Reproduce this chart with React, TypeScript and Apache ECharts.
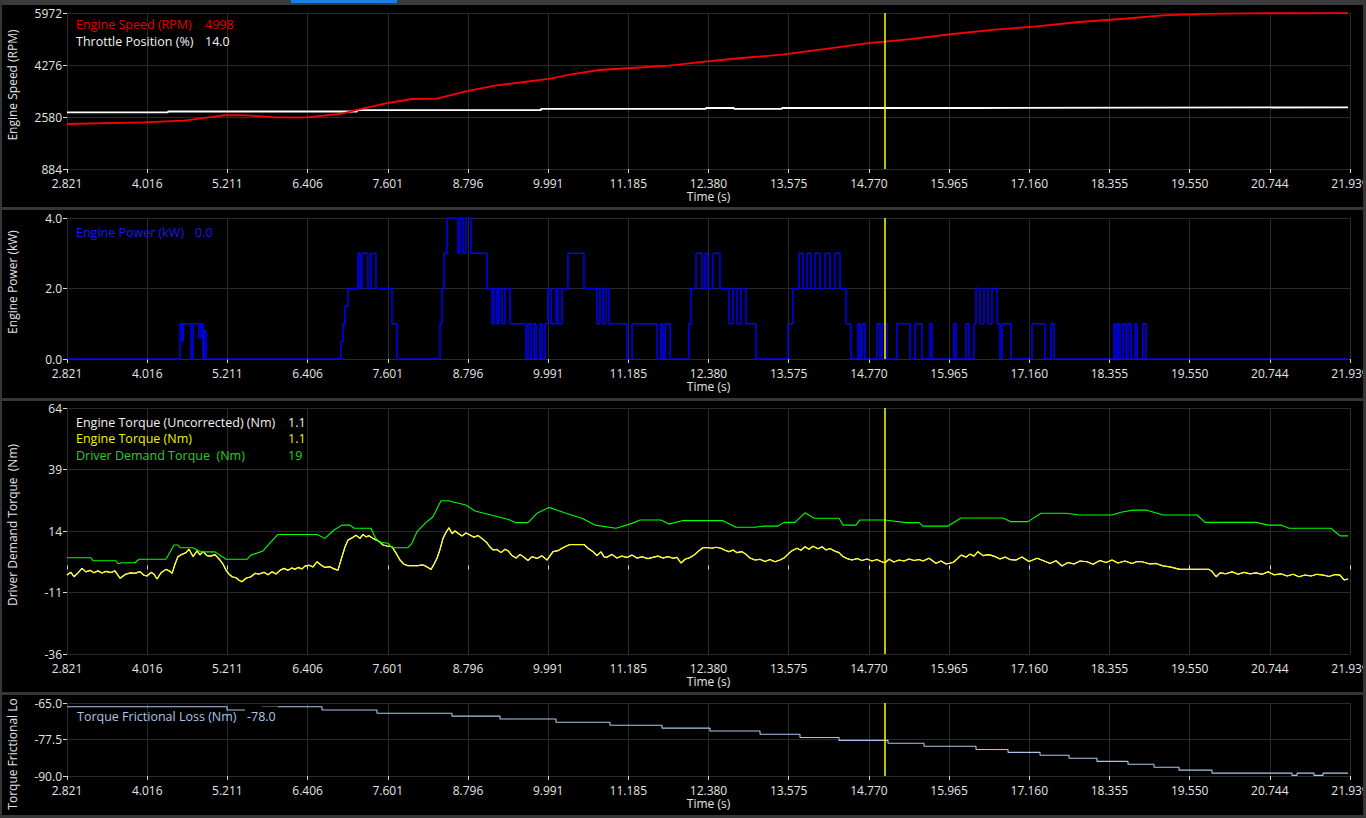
import React, { useEffect, useRef } from "react";
import * as echarts from "echarts";

// ---------- tick labels ----------
const TIME_TICKS = [2.821, 4.016, 5.211, 6.406, 7.601, 8.796, 9.991, 11.185, 12.38, 13.575, 14.77, 15.965, 17.16, 18.355, 19.55, 20.744, 21.939];
const RPM_TICKS = [884, 2580, 4276, 5972];
const POWER_TICKS = [0, 2, 4];
const TORQUE_TICKS = [-36, -11, 14, 39, 64];
const FRICTION_TICKS = [-90, -77.5, -65];
const CURSOR_TIME = 15.01;

// ---------- series values [time (s), value] ----------
const ENGINE_SPEED = [
  [2.821, 2352], [3.954, 2407], [4.564, 2460], [5.19, 2640], [5.503, 2630], [5.935, 2570], [6.397, 2570],
  [6.919, 2690], [7.157, 2818], [7.604, 3037], [7.962, 3167], [8.334, 3177], [8.767, 3418], [9.199, 3601],
  [9.631, 3722], [10.003, 3820], [10.316, 3960], [10.748, 4113], [11.24, 4178], [11.791, 4253], [12.357, 4397],
  [12.879, 4504], [13.505, 4620], [14.131, 4800], [14.757, 4990], [15.01, 5040], [15.382, 5120], [16.023, 5287],
  [16.649, 5428], [17.275, 5538], [17.901, 5678], [18.527, 5776], [19.153, 5897], [19.779, 5945], [20.404, 5962],
  [21.91, 5968],
];

const THROTTLE = [
  [2.821, 13.0], [4.326, 13.2], [7.142, 13.5], [9.884, 13.8], [12.343, 14.0], [12.76, 13.8], [13.475, 14.0],
  [16.336, 14.15], [21.91, 14.15],
];

const ENGINE_POWER = [
  [2.821, 0], [4.505, 1], [4.535, 0.5], [4.55, 1], [4.639, 1], [4.669, 0], [4.699, 1], [4.788, 0.6], [4.818, 1],
  [4.848, 0], [4.862, 0.8], [4.892, 0],
  [6.904, 0.5], [6.934, 1], [6.963, 1.5], [7.008, 2], [7.157, 3], [7.187, 2], [7.217, 3], [7.306, 2], [7.351, 3],
  [7.425, 2], [7.664, 1], [7.738, 0],
  [8.379, 1], [8.409, 2], [8.439, 3], [8.483, 4], [8.647, 3], [8.677, 4], [8.722, 3], [8.766, 4], [8.841, 3],
  [9.079, 2], [9.154, 1], [9.184, 2], [9.228, 1], [9.258, 2], [9.303, 1], [9.348, 2], [9.422, 1], [9.66, 0],
  [9.691, 1], [9.735, 0], [9.78, 1], [9.809, 0], [9.869, 1], [9.899, 0], [9.944, 1], [9.988, 2], [10.033, 1],
  [10.108, 2], [10.137, 1], [10.197, 2], [10.286, 3], [10.525, 2], [10.718, 1], [10.763, 2], [10.808, 1],
  [10.852, 2], [10.897, 1], [11.165, 0], [11.24, 1], [11.613, 0], [11.672, 1], [11.702, 0], [11.737, 1],
  [11.807, 0], [12.089, 1], [12.119, 2], [12.194, 3], [12.283, 2], [12.328, 3], [12.372, 2], [12.447, 3],
  [12.551, 2], [12.685, 1], [12.745, 2], [12.805, 1], [12.864, 2], [12.939, 1], [13.088, 0],
  [13.565, 1], [13.639, 2], [13.728, 3], [13.788, 2], [13.848, 3], [13.907, 2], [13.967, 3], [14.042, 2],
  [14.116, 3], [14.191, 2], [14.265, 3], [14.339, 2], [14.429, 1], [14.503, 0], [14.608, 1], [14.637, 0],
  [14.667, 1], [14.712, 0], [14.891, 1], [14.936, 0], [14.965, 1], [15.04, 0], [15.189, 1], [15.383, 0],
  [15.457, 1], [15.561, 0], [15.68, 1], [15.71, 0], [16.038, 1], [16.068, 0], [16.217, 1], [16.261, 0],
  [16.336, 1], [16.366, 2], [16.426, 1], [16.485, 2], [16.545, 1], [16.604, 2], [16.679, 1], [16.724, 0],
  [16.753, 1], [16.887, 0], [17.2, 1], [17.394, 0], [17.484, 1], [17.528, 0], [18.422, 1], [18.452, 0],
  [18.482, 1], [18.512, 0], [18.557, 1], [18.601, 0], [18.631, 1], [18.676, 0], [18.736, 1], [18.765, 0],
  [18.85, 1], [18.899, 0], [21.91, 0],
];

const ENGINE_TORQUE = [
  [2.821, -3.9], [2.88, -2.8], [2.925, -4.6], [2.985, -3.0], [3.044, -1.2], [3.104, -2.6], [3.164, -2.0],
  [3.223, -3.0], [3.283, -2.2], [3.342, -3.1], [3.402, -2.4], [3.477, -2.9], [3.536, -2.2], [3.611, -5.2],
  [3.7, -3.5], [3.775, -3.0], [3.834, -3.2], [3.909, -2.5], [3.968, -4.0], [4.013, -4.3], [4.073, -2.8],
  [4.117, -3.6], [4.162, -5.5], [4.222, -3.0], [4.296, -1.6], [4.356, -2.4], [4.386, -3.2], [4.43, 0.5],
  [4.475, 3.6], [4.535, 4.5], [4.594, 5.2], [4.639, 6.6], [4.699, 3.6], [4.758, 5.9], [4.803, 4.3],
  [4.848, 5.6], [4.907, 4.0], [4.967, 3.8], [5.026, 4.4], [5.101, 2.2], [5.146, 0.5], [5.19, -1.9],
  [5.235, -3.5], [5.28, -4.6], [5.339, -5.0], [5.384, -6.0], [5.429, -6.6], [5.488, -5.2], [5.563, -4.6],
  [5.622, -3.2], [5.682, -3.5], [5.756, -2.8], [5.816, -3.8], [5.876, -2.6], [5.935, -3.5], [5.995, -2.0],
  [6.054, -1.2], [6.114, -2.0], [6.174, -1.0], [6.218, -1.6], [6.263, -0.8], [6.323, -1.4], [6.367, -0.3],
  [6.427, 0.1], [6.487, -0.6], [6.546, 1.5], [6.606, 0.2], [6.665, -0.8], [6.74, -0.5], [6.799, -1.4],
  [6.859, -1.9], [6.919, 3.6], [6.963, 7.5], [7.008, 10.3], [7.068, 11.2], [7.127, 12.3], [7.187, 11.0],
  [7.232, 12.6], [7.277, 11.6], [7.321, 12.1], [7.381, 11.0], [7.44, 10.2], [7.485, 9.5], [7.53, 8.3],
  [7.589, 7.9], [7.664, 7.6], [7.724, 5.0], [7.783, 2.2], [7.843, 0.5], [7.902, -0.1], [7.977, -0.1],
  [8.051, -0.1], [8.111, 0.2], [8.156, -0.1], [8.245, -1.6], [8.29, 0.5], [8.334, 2.9], [8.379, 6.5],
  [8.424, 11.0], [8.469, 13.5], [8.513, 15.3], [8.558, 13.0], [8.603, 14.0], [8.647, 13.1], [8.707, 12.0],
  [8.766, 13.2], [8.826, 12.4], [8.885, 11.5], [8.945, 12.2], [9.02, 10.6], [9.079, 9.2], [9.124, 7.5],
  [9.169, 6.3], [9.228, 6.5], [9.288, 5.2], [9.348, 6.6], [9.392, 6.0], [9.452, 4.0], [9.512, 3.0],
  [9.571, 4.5], [9.631, 3.3], [9.69, 2.0], [9.75, 3.6], [9.825, 2.8], [9.899, 3.9], [9.974, 2.2],
  [10.063, 5.6], [10.137, 6.0], [10.197, 7.0], [10.256, 7.8], [10.316, 8.5], [10.525, 8.5], [10.584, 7.0],
  [10.659, 5.6], [10.718, 4.0], [10.778, 5.5], [10.823, 3.5], [10.867, 3.3], [10.942, 4.5], [11.016, 3.0],
  [11.091, 3.8], [11.165, 3.2], [11.24, 4.2], [11.314, 3.0], [11.389, 3.5], [11.478, 2.8], [11.553, 3.3],
  [11.627, 3.8], [11.702, 3.0], [11.776, 3.6], [11.851, 2.9], [11.911, 3.3], [11.97, 1.0], [12.03, 2.5],
  [12.104, 3.2], [12.164, 4.2], [12.238, 6.0], [12.298, 7.2], [12.372, 7.3], [12.432, 7.0], [12.492, 7.4],
  [12.566, 7.0], [12.626, 6.2], [12.685, 5.6], [12.745, 6.3], [12.805, 5.2], [12.879, 5.6], [12.939, 4.5],
  [12.998, 3.0], [13.073, 2.2], [13.147, 2.5], [13.222, 1.6], [13.296, 2.4], [13.371, 1.5], [13.445, 2.2],
  [13.505, 3.0], [13.565, 4.6], [13.624, 6.0], [13.699, 7.0], [13.758, 6.2], [13.818, 7.6], [13.878, 6.6],
  [13.937, 7.8], [14.012, 6.8], [14.072, 7.6], [14.131, 6.3], [14.191, 6.9], [14.265, 5.8], [14.325, 5.2],
  [14.384, 3.6], [14.444, 2.8], [14.518, 2.2], [14.593, 2.8], [14.667, 2.0], [14.742, 2.6], [14.816, 1.8],
  [14.891, 2.4], [14.95, 1.6], [15.01, 1.1], [15.07, 2.5], [15.144, 1.4], [15.219, 2.2], [15.293, 1.8],
  [15.368, 2.6], [15.442, 2.0], [15.517, 2.4], [15.576, 1.8], [15.666, 2.9], [15.77, 0.9], [15.845, 1.8],
  [15.919, 0.6], [16.023, 1.2], [16.083, 2.6], [16.143, 4.2], [16.217, 3.4], [16.277, 4.6], [16.336, 3.8],
  [16.396, 5.6], [16.47, 4.0], [16.56, 4.4], [16.649, 3.6], [16.724, 2.6], [16.798, 3.4], [16.873, 2.4],
  [16.962, 2.2], [17.051, 3.4], [17.156, 1.6], [17.275, 2.9], [17.364, 2.0], [17.469, 0.8], [17.558, 1.9],
  [17.647, -0.2], [17.737, 1.2], [17.826, 0.6], [17.916, 1.8], [18.021, 1.5], [18.11, 0.5], [18.214, 2.0],
  [18.303, 1.2], [18.393, 2.2], [18.482, 1.0], [18.586, 1.8], [18.691, 0.8], [18.765, 1.6], [18.84, 1.5],
  [18.959, 0.6], [19.049, 0.8], [19.153, -0.2], [19.257, -0.6], [19.406, -1.6], [19.63, -1.6], [19.839, -1.6],
  [19.884, -2.5], [19.944, -4.6], [20.003, -3.0], [20.092, -3.4], [20.182, -2.6], [20.271, -3.6],
  [20.361, -2.8], [20.45, -3.4], [20.539, -3.0], [20.629, -3.6], [20.718, -2.6], [20.807, -3.8],
  [20.911, -3.4], [21.001, -4.3], [21.09, -3.6], [21.18, -4.6], [21.269, -3.9], [21.358, -4.3],
  [21.448, -3.6], [21.537, -3.9], [21.627, -4.5], [21.716, -3.7], [21.79, -3.9], [21.85, -5.9], [21.91, -5.5],
];

const DRIVER_DEMAND = [
  [2.821, 3.15], [3.179, 3.15], [3.208, 1.9], [3.551, 1.9], [3.581, 0.7], [3.64, 1.1], [3.834, 1.1],
  [3.894, 2.5], [4.296, 2.5], [4.415, 8.3], [4.475, 8.3], [4.505, 7.2], [4.699, 7.2], [4.818, 5.5],
  [5.026, 5.5], [5.19, 2.5], [5.503, 2.5], [5.563, 4.2], [5.742, 5.9], [5.861, 9.6], [5.965, 12.6],
  [6.546, 12.6], [6.665, 11.0], [6.799, 14.4], [6.919, 16.4], [7.038, 16.4], [7.098, 15.1], [7.351, 15.1],
  [7.411, 11.5], [7.47, 9.5], [7.604, 9.0], [7.664, 7.2], [7.902, 7.2], [7.96, 9.0], [8.036, 13.7],
  [8.156, 17.1], [8.275, 19.8], [8.394, 26.3], [8.498, 26.3], [8.766, 24.6], [8.901, 22.1], [9.139, 20.5],
  [9.392, 18.8], [9.512, 17.4], [9.69, 17.4], [9.825, 21.2], [10.003, 23.6], [10.256, 21.2], [10.495, 19.2],
  [10.689, 16.4], [11.002, 15.1], [11.24, 17.1], [11.359, 18.5], [11.672, 18.5], [11.791, 16.8],
  [11.985, 18.2], [12.596, 18.2], [12.79, 15.5], [13.073, 15.5], [13.192, 16.0], [13.416, 16.0],
  [13.505, 17.5], [13.669, 17.5], [13.818, 21.4], [13.952, 19.2], [14.325, 19.2], [14.384, 16.4],
  [14.578, 16.4], [14.637, 18.5], [15.01, 18.5], [15.323, 17.4], [15.517, 17.4], [15.576, 16.0],
  [15.949, 16.0], [16.143, 19.3], [16.768, 19.3], [16.887, 17.8], [17.141, 17.8], [17.334, 21.2],
  [17.707, 21.2], [17.901, 20.5], [18.393, 20.5], [18.527, 21.6], [18.706, 22.5], [18.899, 22.5],
  [19.153, 20.5], [19.659, 20.5], [19.779, 17.5], [20.539, 17.5], [20.717, 16.4], [20.911, 16.4],
  [21.03, 15.1], [21.656, 15.1], [21.79, 12.0], [21.91, 12.0],
];

const FRICTION_LOSS = [
  [2.821, -66.3], [5.205, -67.4], [5.727, -66.3], [6.621, -67.4], [7.44, -68.5], [8.558, -69.5],
  [9.273, -70.5], [10.108, -71.6], [10.912, -72.6], [11.687, -73.6], [12.402, -74.6], [13.148, -75.7],
  [13.743, -76.8], [14.325, -77.8], [15.055, -78.8], [15.591, -79.8], [16.366, -80.9], [16.843, -81.9],
  [17.32, -82.9], [17.752, -83.9], [18.169, -85.0], [18.631, -86.0], [19.018, -87.0], [19.391, -88.0],
  [19.883, -89.0], [21.075, -89.8], [21.15, -89.0], [21.403, -89.8], [21.537, -89.0], [21.91, -89.0],
];

// ---------- legend readouts ----------
const LEGEND_P1 = [["Engine Speed (RPM)", "4998", "#e00000"], ["Throttle Position (%)", "14.0", "#f2f2f2"]];
const LEGEND_P2 = [["Engine Power (kW)", "0.0", "#1818f0"]];
const LEGEND_P3 = [
  ["Engine Torque (Uncorrected) (Nm)", "1.1", "#f2f2f2"],
  ["Engine Torque (Nm)", "1.1", "#f0f000"],
  ["Driver Demand Torque  (Nm)", "19", "#22d022"],
];
const LEGEND_P4 = [["Torque Frictional Loss (Nm)", "-78.0", "#a9c6ea"]];

// ---------- layout / style ----------
const FONT = "Open Sans";
const TEXT = "#e4e4e4";
const GRID_LINE = "#2a2a2a";
const TICK = "#d8d8d8";
const SEP = "#363636";
const LEGEND_SIZE = 12.5;
const PANELS = [
  { top: 13, height: 156 },
  { top: 218, height: 141 },
  { top: 408, height: 246 },
  { top: 703, height: 73 },
];

function makeX(gridIndex: number) {
  return {
    type: "value",
    gridIndex,
    min: TIME_TICKS[0],
    max: TIME_TICKS[TIME_TICKS.length - 1],
    name: "Time (s)",
    nameLocation: "middle",
    nameGap: 21,
    nameTextStyle: { color: TEXT, fontFamily: FONT, fontSize: 12, lineHeight: 12 },
    axisLine: { show: false },
    axisTick: { show: true, customValues: TIME_TICKS, length: 4, lineStyle: { color: TICK } },
    axisLabel: {
      customValues: TIME_TICKS,
      formatter: (v: number) => v.toFixed(3),
      color: TEXT,
      fontFamily: FONT,
      fontSize: 12,
      lineHeight: 12,
      margin: 8,
      showMinLabel: true,
      showMaxLabel: true,
    },
    splitLine: { show: true, lineStyle: { color: GRID_LINE, width: 1 } },
  };
}

function makeY(gridIndex: number, ticks: number[], digits: number) {
  return {
    type: "value",
    gridIndex,
    min: ticks[0],
    max: ticks[ticks.length - 1],
    axisLine: { show: false },
    axisTick: { show: true, customValues: ticks, length: 4, lineStyle: { color: TICK } },
    axisLabel: {
      customValues: ticks,
      formatter: (v: number) => v.toFixed(digits),
      color: TEXT,
      fontFamily: FONT,
      fontSize: 12,
      lineHeight: 12,
      margin: 5,
      showMinLabel: true,
      showMaxLabel: true,
    },
    splitLine: { show: true, lineStyle: { color: GRID_LINE, width: 1 } },
  };
}

const cursor = {
  silent: true,
  symbol: ["none", "none"],
  label: { show: false },
  lineStyle: { color: "#ffff00", width: 1.5, type: "solid" },
  data: [{ xAxis: CURSOR_TIME }],
};

function legendTexts(rows: string[][], x: number, valueX: number, y0: number, dy: number, bg?: string) {
  const out: any[] = [];
  rows.forEach((r, i) => {
    out.push({
      type: "text",
      x,
      y: y0 + i * dy,
      z: 100,
      style: { text: r[0], fill: r[2], fontSize: LEGEND_SIZE, fontFamily: FONT, verticalAlign: "middle", align: "left" },
    });
    out.push({
      type: "text",
      x: valueX,
      y: y0 + i * dy,
      z: 100,
      style: {
        text: r[1],
        fill: r[2],
        fontSize: LEGEND_SIZE,
        fontFamily: FONT,
        verticalAlign: "middle",
        align: "left",
        backgroundColor: bg,
        padding: bg ? [3, 2, 3, 2] : 0,
      },
    });
  });
  return out;
}

function yName(text: string, x: number, y: number, width?: number) {
  const style: any = { text, fill: TEXT, fontSize: 12, fontFamily: FONT, align: "center", verticalAlign: "middle" };
  if (width) {
    style.width = width;
    style.overflow = "truncate";
    style.ellipsis = "";
  }
  return { type: "text", x, y, rotation: Math.PI / 2, z: 100, style };
}

export default function App() {
  const ref = useRef<HTMLDivElement>(null);

  useEffect(() => {
    if (!ref.current) return;
    const chart = echarts.init(ref.current, null, { renderer: "svg" });

    const sepRect = (x: number, y: number, w: number, h: number, fill = SEP) => ({
      type: "rect",
      z: 200,
      shape: { x, y, width: w, height: h },
      style: { fill },
      silent: true,
    });

    const option: any = {
      animation: false,
      backgroundColor: "#000000",
      grid: PANELS.map((p) => ({
        left: 67,
        right: 16,
        top: p.top,
        height: p.height,
        containLabel: false,
        outerBoundsMode: "none",
      })),
      xAxis: [makeX(0), makeX(1), makeX(2), makeX(3)],
      yAxis: [
        makeY(0, RPM_TICKS, 0),
        makeY(1, POWER_TICKS, 1),
        makeY(2, TORQUE_TICKS, 0),
        makeY(3, FRICTION_TICKS, 1),
        { type: "value", gridIndex: 0, min: 0, max: 35.8, show: false },
      ],
      series: [
        {
          name: "Throttle Position (%)",
          type: "line",
          xAxisIndex: 0,
          yAxisIndex: 4,
          step: "end",
          showSymbol: false,
          data: THROTTLE,
          lineStyle: { color: "#ffffff", width: 1.8 },
          itemStyle: { color: "#ffffff" },
          z: 3,
        },
        {
          name: "Engine Speed (RPM)",
          type: "line",
          xAxisIndex: 0,
          yAxisIndex: 0,
          showSymbol: false,
          data: ENGINE_SPEED,
          lineStyle: { color: "#ff0000", width: 1.8 },
          itemStyle: { color: "#ff0000" },
          markLine: cursor,
          z: 4,
        },
        {
          name: "Engine Power (kW)",
          type: "line",
          xAxisIndex: 1,
          yAxisIndex: 1,
          step: "end",
          showSymbol: false,
          data: ENGINE_POWER,
          lineStyle: { color: "#0000ff", width: 1.5 },
          itemStyle: { color: "#0000ff" },
          markLine: cursor,
        },
        {
          name: "Engine Torque (Uncorrected) (Nm)",
          type: "line",
          xAxisIndex: 2,
          yAxisIndex: 2,
          showSymbol: false,
          data: ENGINE_TORQUE,
          lineStyle: { color: "#ffffff", width: 1.2 },
          itemStyle: { color: "#ffffff" },
          z: 2,
        },
        {
          name: "Engine Torque (Nm)",
          type: "line",
          xAxisIndex: 2,
          yAxisIndex: 2,
          showSymbol: false,
          data: ENGINE_TORQUE,
          lineStyle: { color: "#ffff00", width: 1.1 },
          itemStyle: { color: "#ffff00" },
          z: 3,
        },
        {
          name: "Driver Demand Torque  (Nm)",
          type: "line",
          xAxisIndex: 2,
          yAxisIndex: 2,
          showSymbol: false,
          data: DRIVER_DEMAND,
          lineStyle: { color: "#00ff00", width: 1.1 },
          itemStyle: { color: "#00ff00" },
          markLine: cursor,
          z: 4,
        },
        {
          name: "Torque Frictional Loss (Nm)",
          type: "line",
          xAxisIndex: 3,
          yAxisIndex: 3,
          step: "end",
          showSymbol: false,
          data: FRICTION_LOSS,
          lineStyle: { color: "#a9c6ea", width: 1.1 },
          itemStyle: { color: "#a9c6ea" },
          markLine: cursor,
        },
      ],
      graphic: [
        // legends
        ...legendTexts(LEGEND_P1, 76, 205, 24, 17.5),
        ...legendTexts(LEGEND_P2, 76, 195, 232, 17),
        ...legendTexts(LEGEND_P3, 76, 288, 422, 16.8),
        ...legendTexts(LEGEND_P4, 77, 245, 716, 17, "#000000"),
        // y axis names
        yName("Engine Speed (RPM)", 12, 85),
        yName("Engine Power (kW)", 12, 282),
        yName("Driver Demand Torque  (Nm)", 12, 525),
        yName("Torque Frictional Loss (Nm)", 12, 754, 118),
        // panel separators / frame
        sepRect(0, 0, 1366, 5, "#3a3a3a"),
        sepRect(291, 0, 106, 3, "#1c7fe8"),
        sepRect(0, 207, 1366, 3),
        sepRect(0, 398, 1366, 3),
        sepRect(0, 692, 1366, 3),
        sepRect(0, 815, 1366, 3),
        sepRect(0, 0, 2, 818),
        sepRect(1363, 0, 3, 818),
      ],
    };

    chart.setOption(option);
    return () => chart.dispose();
  }, []);

  return (
    <div
      ref={ref}
      style={{ position: "fixed", left: 0, top: 0, width: 1366, height: 818, background: "#000" }}
    />
  );
}
